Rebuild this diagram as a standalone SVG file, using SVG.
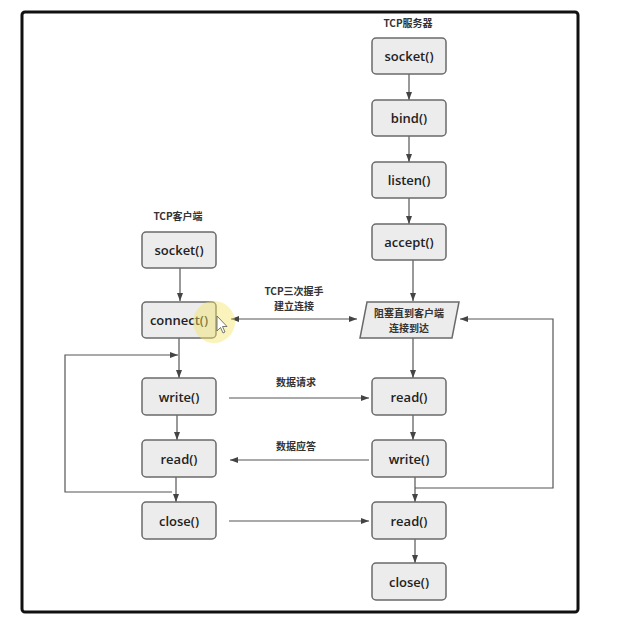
<svg xmlns="http://www.w3.org/2000/svg" width="625" height="625" viewBox="0 0 625 625">
<style>
.box{fill:#ececec;stroke:#6a6a6a;stroke-width:1.5}
.bt{font-family:"Open Sans","Liberation Sans","Noto Sans CJK SC",sans-serif;font-weight:600;font-size:13px;fill:#222;text-anchor:middle;dominant-baseline:central}
.lb{font-family:"Noto Sans CJK SC","Noto Sans",sans-serif;font-weight:700;font-size:10px;fill:#333;text-anchor:middle;dominant-baseline:central}
.ln{fill:none;stroke:#555;stroke-width:1.2}
</style>
<defs>
<marker id="ah" markerUnits="userSpaceOnUse" markerWidth="8" markerHeight="6" refX="8" refY="3" orient="auto-start-reverse"><path d="M0,0 L8,3 L0,6 z" fill="#444"/></marker>
</defs>
<rect x="0" y="0" width="625" height="625" fill="#fff"/>
<rect x="22" y="12" width="556" height="600" rx="3" fill="#fff" stroke="#111" stroke-width="3"/>
<text class="lb" x="408" y="22">TCP服务器</text>
<text class="lb" x="178" y="215">TCP客户端</text>
<g id="connectors">
<line class="ln" x1="409" y1="74" x2="409" y2="100" marker-end="url(#ah)"/>
<line class="ln" x1="409" y1="136" x2="409" y2="162" marker-end="url(#ah)"/>
<line class="ln" x1="409" y1="198" x2="409" y2="224" marker-end="url(#ah)"/>
<line class="ln" x1="413" y1="260" x2="413" y2="301" marker-end="url(#ah)"/>
<line class="ln" x1="413" y1="338" x2="413" y2="378" marker-end="url(#ah)"/>
<line class="ln" x1="413" y1="415" x2="413" y2="440" marker-end="url(#ah)"/>
<line class="ln" x1="415" y1="477" x2="415" y2="502" marker-end="url(#ah)"/>
<line class="ln" x1="415" y1="539" x2="415" y2="563" marker-end="url(#ah)"/>
<path class="ln" d="M415,488 H553 V319 H460" marker-end="url(#ah)"/>
<line class="ln" x1="180" y1="268" x2="180" y2="301" marker-end="url(#ah)"/>
<line class="ln" x1="179" y1="338" x2="179" y2="378" marker-end="url(#ah)"/>
<line class="ln" x1="177" y1="415" x2="177" y2="440" marker-end="url(#ah)"/>
<line class="ln" x1="176" y1="477" x2="176" y2="502" marker-end="url(#ah)"/>
<path class="ln" d="M172,492 H65 V355 H178" marker-end="url(#ah)"/>
<line class="ln" x1="231" y1="319" x2="357" y2="319" marker-start="url(#ah)" marker-end="url(#ah)"/>
<line class="ln" x1="229" y1="398" x2="369" y2="398" marker-end="url(#ah)"/>
<line class="ln" x1="369" y1="460" x2="230" y2="460" marker-end="url(#ah)"/>
<line class="ln" x1="229" y1="521" x2="369" y2="521" marker-end="url(#ah)"/>
<text class="lb" x="294" y="290">TCP三次握手</text>
<text class="lb" x="294" y="305">建立连接</text>
<text class="lb" x="296" y="381">数据请求</text>
<text class="lb" x="296" y="445">数据应答</text>
</g>
<g id="s_socket"><rect class="box" x="372" y="38" width="74" height="36" rx="4"/><text class="bt" x="409" y="56">socket()</text></g>
<g id="s_bind"><rect class="box" x="372" y="100" width="74" height="36" rx="4"/><text class="bt" x="409" y="118">bind()</text></g>
<g id="s_listen"><rect class="box" x="372" y="162" width="74" height="36" rx="4"/><text class="bt" x="409" y="180">listen()</text></g>
<g id="s_accept"><rect class="box" x="372" y="224" width="74" height="36" rx="4"/><text class="bt" x="409" y="242">accept()</text></g>
<g id="s_block"><path class="box" d="M367,302 H459 L452,338 H360 Z"/><text class="lb" x="409" y="312">阻塞直到客户端</text><text class="lb" x="409" y="327">连接到达</text></g>
<g id="s_read1"><rect class="box" x="372" y="378" width="74" height="37" rx="4"/><text class="bt" x="409" y="397">read()</text></g>
<g id="s_write"><rect class="box" x="372" y="440" width="74" height="37" rx="4"/><text class="bt" x="409" y="459">write()</text></g>
<g id="s_read2"><rect class="box" x="372" y="502" width="74" height="37" rx="4"/><text class="bt" x="409" y="521">read()</text></g>
<g id="s_close"><rect class="box" x="372" y="563" width="74" height="37" rx="4"/><text class="bt" x="409" y="582">close()</text></g>
<g id="c_socket"><rect class="box" x="142" y="232" width="74" height="36" rx="4"/><text class="bt" x="179" y="250">socket()</text></g>
<g id="c_connect"><rect class="box" x="142" y="302" width="74" height="36" rx="4"/><text class="bt" x="179" y="320">connect()</text></g>
<g id="c_write"><rect class="box" x="142" y="378" width="74" height="37" rx="4"/><text class="bt" x="179" y="397">write()</text></g>
<g id="c_read"><rect class="box" x="142" y="440" width="74" height="37" rx="4"/><text class="bt" x="179" y="459">read()</text></g>
<g id="c_close"><rect class="box" x="142" y="502" width="74" height="37" rx="4"/><text class="bt" x="179" y="521">close()</text></g>
<circle cx="214" cy="322" r="21" fill="#f5e66a" fill-opacity="0.45"/>
<path d="M217,316 L217,331 L220.5,327.5 L223,333 L225,332 L222.5,326.5 L227,326.5 Z" fill="#fff" stroke="#555" stroke-width="0.8"/>
</svg>
